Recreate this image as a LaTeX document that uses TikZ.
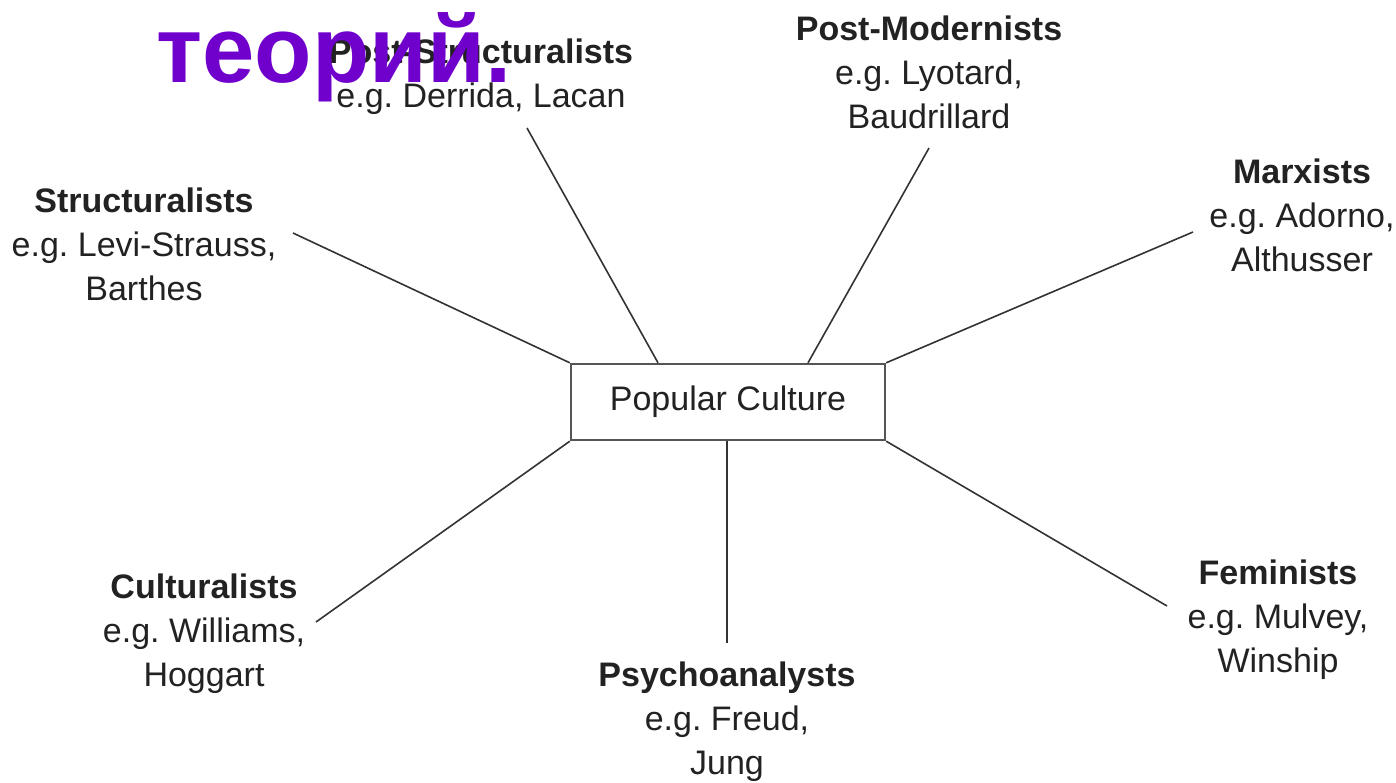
\documentclass[tikz,border=0pt]{standalone}
\usepackage{fontspec}
\setmainfont{Liberation Sans}
\frenchspacing
\definecolor{txt}{HTML}{222222}
\definecolor{ln}{HTML}{333333}
\definecolor{bx}{HTML}{555555}
\definecolor{purp}{HTML}{7000CC}
\begin{document}
\begin{tikzpicture}[x=0.5pt,y=-0.5pt,
  lab/.style={align=center, font=\fontsize{17}{22}\selectfont, text=txt, inner sep=0pt, anchor=north},
  link/.style={draw=ln, line width=0.8pt},
  centerbox/.style={draw=bx, line width=1.2pt, minimum width=157pt, minimum height=38pt, inner sep=0pt,
    font=\fontsize{17}{22}\selectfont, text=txt}]
\useasboundingbox (0,0) rectangle (1396,782);
\fill[white] (0,0) rectangle (1396,782);

\node[centerbox] (pc) at (728,402) {Popular Culture};

\node[lab] (ps) at (481,38) {\textbf{Post-Structuralists}\\e.g. Derrida, Lacan};
\node[lab] (pm) at (929,15) {\textbf{Post-Modernists}\\e.g. Lyotard,\\Baudrillard};
\node[lab] (mx) at (1302,158) {\textbf{Marxists}\\e.g. Adorno,\\Althusser};
\node[lab] (st) at (144,187) {\textbf{Structuralists}\\e.g. Levi-Strauss,\\Barthes};
\node[lab] (cu) at (204,573) {\textbf{Culturalists}\\e.g. Williams,\\Hoggart};
\node[lab] (py) at (727,661) {\textbf{Psychoanalysts}\\e.g. Freud,\\Jung};
\node[lab] (fe) at (1278,559) {\textbf{Feminists}\\e.g. Mulvey,\\Winship};

\coordinate (cps) at (527,128);
\coordinate (cpm) at (929,148);
\coordinate (cmx) at (1193,232);
\coordinate (cst) at (293,233);
\coordinate (ccu) at (316,622);
\coordinate (cpy) at (727,643);
\coordinate (cfe) at (1167,606);

\draw[link] (cst) -- (pc.north west);
\draw[link] (cps) -- (pc.north west -| 658,0);
\draw[link] (cpm) -- (pc.north west -| 808,0);
\draw[link] (cmx) -- (pc.north east);
\draw[link] (ccu) -- (pc.south west);
\draw[link] (cpy) -- (pc.south west -| 727,0);
\draw[link] (cfe) -- (pc.south east);

\node[anchor=base west, inner sep=0pt, text=purp, font=\fontsize{47}{50}\selectfont\bfseries] (tt) at (156,82) {теорий.};
\end{tikzpicture}
\end{document}
